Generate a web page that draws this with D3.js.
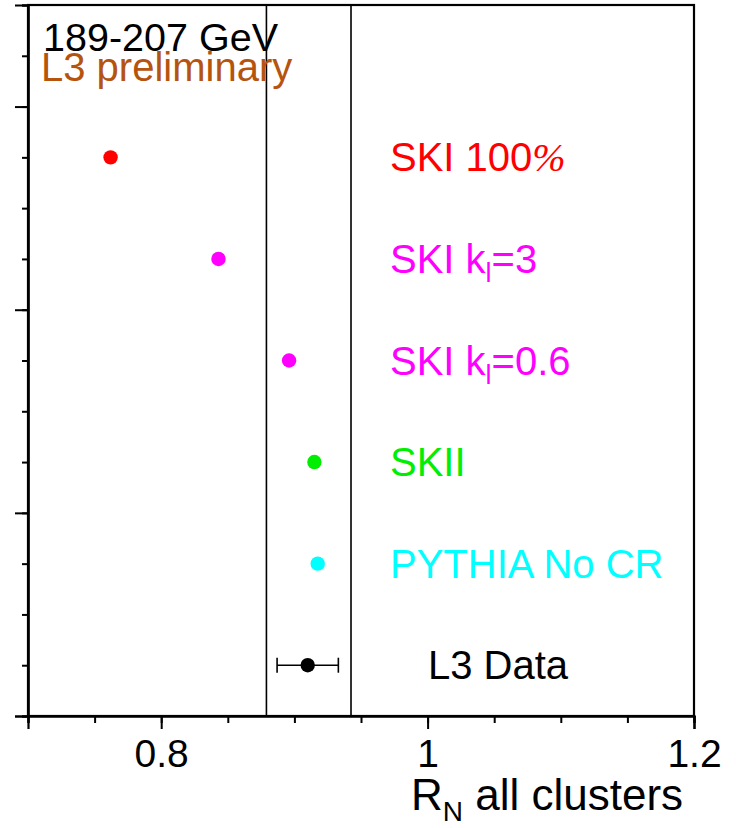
<!DOCTYPE html>
<html>
<head>
<meta charset="utf-8">
<script src="https://cdn.jsdelivr.net/npm/d3@7"></script>
<style>
  html, body { margin: 0; padding: 0; background: #fff; }
  svg { display: block; font-family: "Liberation Sans", Arial, sans-serif; }
</style>
</head>
<body>
<svg id="chart" width="736" height="828"></svg>
<script>
// ---- data ----
const models = ["SKI 100%", "SKI k_l=3", "SKI k_l=0.6", "SKII", "PYTHIA No CR"];
const modelValues = [0.762, 0.843, 0.896, 0.915, 0.9175];
const modelRows = [11, 9, 7, 5, 3];
const modelColors = ["#ff0000", "#ff00ff", "#ff00ff", "#00ee00", "#00ffff"];
const dataLabel = "L3 Data";
const dataValue = 0.910;
const dataRow = 1;
const dataStatError = 0.023;
const dataBand = [0.879, 0.9425];
const xTickLabels = [0.8, 1.0, 1.2];
const xMinorTicks = [0.7, 0.75, 0.8, 0.85, 0.9, 0.95, 1.0, 1.05, 1.1, 1.15, 1.2];
const yMajorTicks = [0, 4, 8, 12];
const yMinorTicks = [0,1,2,3,4,5,6,7,8,9,10,11,12,13,14];

// ---- layout ----
const svg = d3.select("#chart");
const L = 28, R = 694, T = 5, B = 716;
const x = d3.scaleLinear().domain([0.7, 1.2]).range([L, R]);
const y = d3.scaleLinear().domain([0, 14]).range([B, T]);
const FS = 40;

// band lines
svg.selectAll("line.band").data(dataBand).enter().append("line")
  .attr("class", "band")
  .attr("x1", d => x(d)).attr("x2", d => x(d))
  .attr("y1", T).attr("y2", B)
  .attr("stroke", "#000").attr("stroke-width", 1.6);

// frame
svg.append("rect").attr("x", L).attr("y", T).attr("width", R - L).attr("height", B - T)
  .attr("fill", "none").attr("stroke", "#000").attr("stroke-width", 2.2);

// y axis (no labels)
const yMinor = svg.append("g").attr("transform", `translate(${L},0)`)
  .call(d3.axisLeft(y).tickValues(yMinorTicks).tickSize(6).tickFormat(""));
const yMajor = svg.append("g").attr("transform", `translate(${L},0)`)
  .call(d3.axisLeft(y).tickValues(yMajorTicks).tickSize(13).tickFormat(""));

// x axis
const xMinor = svg.append("g").attr("transform", `translate(0,${B})`)
  .call(d3.axisBottom(x).tickValues(xMinorTicks).tickSize(7).tickFormat(""));
const xMajor = svg.append("g").attr("transform", `translate(0,${B})`)
  .call(d3.axisBottom(x).tickValues(xTickLabels).tickSize(13).tickPadding(10)
    .tickFormat(d => d === 1 ? "1" : String(d)));

[yMinor, yMajor, xMinor, xMajor].forEach(g => {
  g.select(".domain").attr("stroke-width", 2.2);
  g.selectAll(".tick line").attr("stroke", "#000").attr("stroke-width", 2);
});
xMajor.selectAll(".tick text").attr("font-size", 39).attr("fill", "#000")
  .attr("font-family", "Liberation Sans, Arial, sans-serif");

// axis title
const title = svg.append("text").attr("x", 411).attr("y", 810)
  .attr("font-size", 44).attr("fill", "#000");
title.append("tspan").text("R");
title.append("tspan").attr("font-size", 28).attr("dy", 11).text("N");
title.append("tspan").attr("dy", -11).text(" all clusters");

// header texts
svg.append("text").attr("x", 43).attr("y", 51).attr("font-size", 39.5).attr("fill", "#000")
  .text("189-207 GeV");
svg.append("text").attr("x", 41).attr("y", 81).attr("font-size", 40).attr("fill", "#b5540f")
  .text("L3 preliminary");

// model points
svg.selectAll("circle.model").data(modelValues).enter().append("circle")
  .attr("class", "model")
  .attr("cx", d => x(d)).attr("cy", (d, i) => y(modelRows[i]))
  .attr("r", 7.2)
  .attr("fill", (d, i) => modelColors[i]);

// model labels
models.forEach((name, i) => {
  const t = svg.append("text").attr("x", 390).attr("y", y(modelRows[i]) + 14)
    .attr("font-size", FS).attr("fill", modelColors[i]);
  if (name.includes("k_l")) {
    const parts = name.split("k_l");
    t.append("tspan").text(parts[0] + "k");
    t.append("tspan").attr("font-size", 27).attr("dy", 9).text("l");
    t.append("tspan").attr("dy", -9).text(parts[1]);
  } else if (name.endsWith("%")) {
    t.append("tspan").text(name.slice(0, -1));
    t.append("tspan").attr("font-family", "Liberation Serif, serif").attr("font-style", "italic")
      .text("%");
  } else {
    t.text(name);
  }
});

// data point with error bar
const dy = y(dataRow);
svg.append("line").attr("x1", x(dataValue - dataStatError)).attr("x2", x(dataValue + dataStatError))
  .attr("y1", dy).attr("y2", dy).attr("stroke", "#000").attr("stroke-width", 1.6);
[dataValue - dataStatError, dataValue + dataStatError].forEach(v => {
  svg.append("line").attr("x1", x(v)).attr("x2", x(v)).attr("y1", dy - 7.5).attr("y2", dy + 7.5)
    .attr("stroke", "#000").attr("stroke-width", 1.6);
});
svg.append("circle").attr("cx", x(dataValue)).attr("cy", dy).attr("r", 7.2).attr("fill", "#000");
svg.append("text").attr("x", 428).attr("y", dy + 14).attr("font-size", FS).attr("fill", "#000")
  .text(dataLabel);
</script>
</body>
</html>
